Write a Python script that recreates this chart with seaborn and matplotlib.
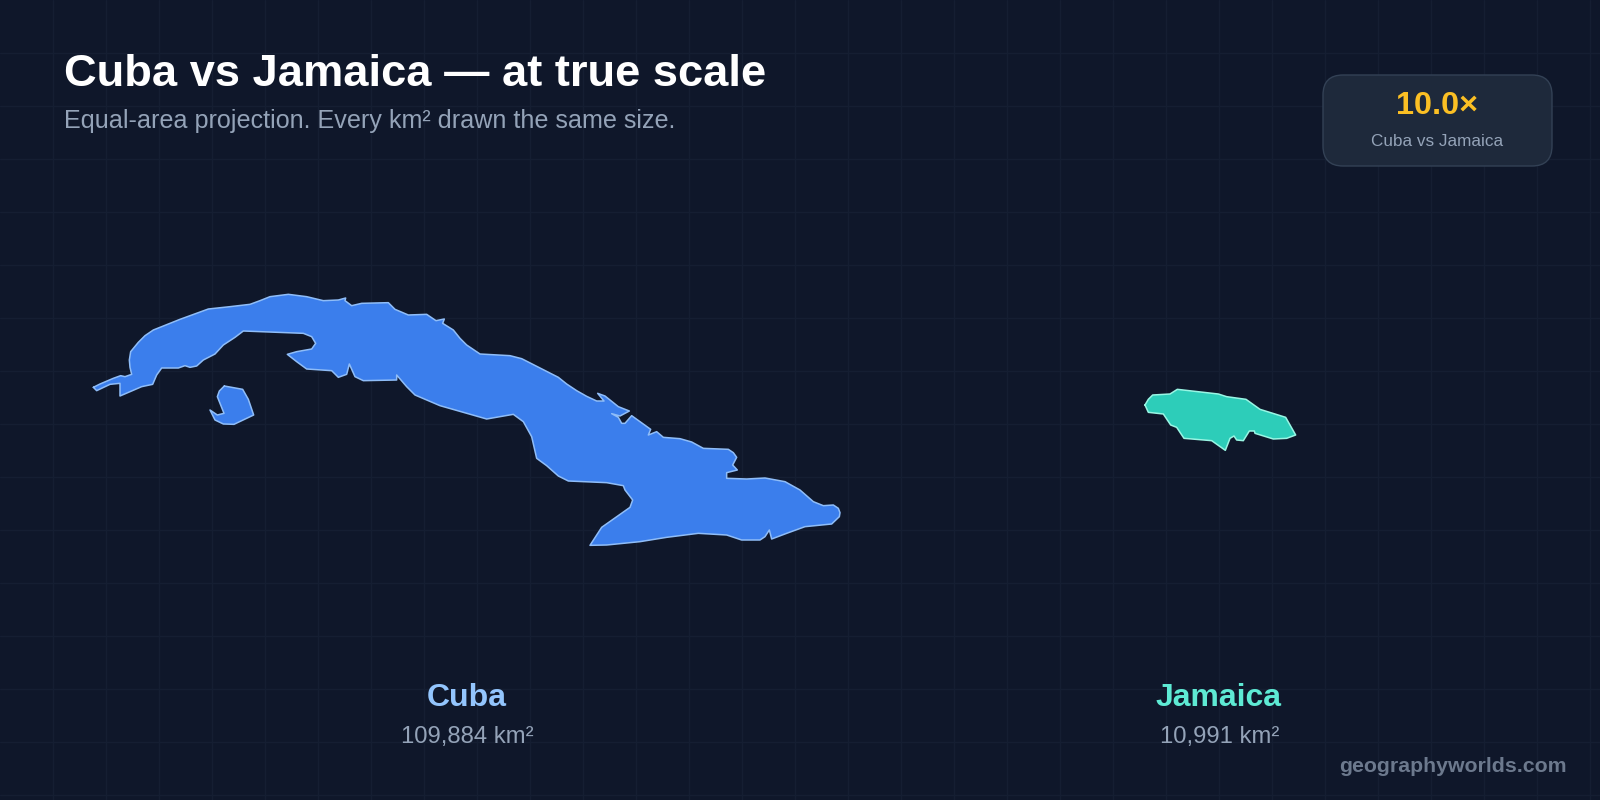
import matplotlib
matplotlib.use('Agg')
import matplotlib.pyplot as plt
from matplotlib.patches import FancyBboxPatch
import numpy as np
import seaborn as sns

# outlines, in 3x crop units (crop origin given next to each)
cuba_west_north = [(40,322),(60,312),(100,295),(122,287),(135,290),(155,283),(150,262),(148,240),(152,215),(175,187),
                   (195,167),(220,150),(300,118),(385,87),(450,80),(510,73),(540,62),(570,50),(625,43),(680,50),(730,62),
                   (775,60),(797,54),(795,62),(815,77),(845,70),(925,68),(945,88),(985,105),(1040,103),(1068,122),
                   (1093,117),(1088,130),(1120,150),(1140,175),(1160,195),(1200,222)]  # crop at 80,280
cuba_east = [(210,107),(245,116),(300,144),(355,172),(380,192),(410,212),(440,229),(470,243),(492,243),(473,220),
             (495,228),(535,260),(568,273),(540,288),(515,281),(535,292),(545,310),(555,310),(575,287),(632,328),
             (625,345),(650,335),(670,352),(720,356),(755,366),(790,385),(865,388),(880,398),(890,412),(878,435),
             (892,450),(860,458),(860,475),(920,477),(975,474),(1035,485),(1080,510),(1120,545),(1150,557),
             (1180,555),(1195,565),(1200,578),(1198,590),(1175,612),(1095,620),(1040,640),(995,657),(988,630),
             (975,650),(960,660),(905,660),(860,645),(775,640),(680,652),(600,665),(500,675),(450,676),(485,622),
             (570,562),(578,540),(555,510),(550,497),(500,488),(385,483),(355,468),(320,437),(290,415),(282,380),
             (275,350),(250,305),(220,283),(140,297),(70,277),(0,257)]  # crop at 440,320
cuba_west_south = [(1005,345),(980,320),(950,285),(950,300),(850,302),(825,290),(808,252),(800,283),
                   (775,292),(755,272),(680,267),(650,245),(622,223),(650,215),(695,207),(707,190),(695,170),
                   (670,160),(490,153),(465,172),(430,195),(405,222),(370,240),(350,258),(330,262),(315,257),
                   (295,264),(245,264),(230,285),(218,313),(185,320),(120,348),(120,310),(90,313),(50,332)]  # crop at 80,280
isle_of_youth = [(433,318),(488,328),(505,358),(521,405),(462,433),(430,432),(405,420),(390,390),(412,405),
                 (432,400),(412,350),(418,333)]  # crop at 80,280
jamaica = [(75,105),(85,88),(98,75),(150,72),(172,58),(295,72),(320,80),(378,88),(420,118),(497,142),(527,195),(500,205),
           (460,207),(405,190),(403,183),(388,183),(370,212),(350,210),(342,198),(330,205),(316,241),(275,212),
           (192,205),(170,172),(152,165),(130,132),(85,127)]  # crop at 1120,370

names = ['Cuba', 'Jamaica']
areas = ['109,884 km²', '10,991 km²']
ratio = '10.0×'


def from_crop(points, x0, y0):
    pts = np.array(points, dtype=float)
    return pts[:, 0] / 3 + x0, pts[:, 1] / 3 + y0


sns.set_theme(style='dark')
plt.rcParams['font.family'] = ['Liberation Sans', 'DejaVu Sans']

fig = plt.figure(figsize=(16, 8), dpi=100, facecolor='#0f172a')
ax = fig.add_axes([0, 0, 1, 1], facecolor='#0f172a')
for s in ax.spines.values():
    s.set_visible(False)
ax.set_xticks(np.arange(53, 1600, 53))
ax.set_yticks(np.arange(53, 800, 53))
ax.tick_params(length=0, labelbottom=False, labelleft=False)
ax.grid(True, color='#151e32', lw=1)
ax.set_axisbelow(True)

xa, ya = from_crop(cuba_west_north, 80, 280)
xb, yb = from_crop(cuba_east, 440, 320)
xc, yc = from_crop(cuba_west_south, 80, 280)
cuba_x = np.concatenate([xa, xb, xc])
cuba_y = np.concatenate([ya, yb, yc])
isle_x, isle_y = from_crop(isle_of_youth, 80, 280)
jam_x, jam_y = from_crop(jamaica, 1120, 370)

shapes = [(cuba_x, cuba_y, '#3b7eec', '#8fbdf8'),
          (isle_x, isle_y, '#3b7eec', '#8fbdf8'),
          (jam_x, jam_y, '#2dcdb9', '#99f6e4')]
for x, y, fill, edge in shapes:
    ax.fill(x, y, color=fill, lw=0, zorder=3)
    sns.lineplot(x=np.append(x, x[0]), y=np.append(y, y[0]), sort=False, estimator=None,
                 color=edge, lw=1.1, ax=ax, zorder=4, solid_joinstyle='round')
ax.set_xlim(0, 1600)
ax.set_ylim(800, 0)
ax.set_xlabel('')
ax.set_ylabel('')

ax.text(64, 75, 'Cuba vs Jamaica — at true scale', color='white', fontsize=32.6, fontweight='bold',
        ha='left', va='center')
ax.text(64, 121, 'Equal-area projection. Every km² drawn the same size.', color='#94a3b8', fontsize=18.12,
        ha='left', va='center')

badge = FancyBboxPatch((1323 + 20, 75 + 20), 229 - 40, 91 - 40, boxstyle='round,pad=20,rounding_size=20',
                       fc='#1e293b', ec='#334155', lw=1, zorder=3)
ax.add_patch(badge)
ax.text(1437, 106, ratio, color='#fbbf24', fontsize=23.3, fontweight='bold', ha='center', va='center', zorder=5)
ax.text(1437, 141, 'Cuba vs Jamaica', color='#94a3b8', fontsize=12.3, ha='center', va='center', zorder=5)

ax.text(467, 698, names[0], color='#93c5fd', fontsize=23, fontweight='bold', ha='center', va='center')
ax.text(467, 737, areas[0], color='#94a3b8', fontsize=17.2, ha='center', va='center')
ax.text(1219, 698, names[1], color='#5eead4', fontsize=23, fontweight='bold', ha='center', va='center')
ax.text(1220, 737, areas[1], color='#94a3b8', fontsize=17.2, ha='center', va='center')

ax.text(1567, 767, 'geographyworlds.com', color='#94a3b8', alpha=0.7, fontsize=15.3, fontweight='bold',
        ha='right', va='center')

plt.savefig('out.png', dpi=100, facecolor=fig.get_facecolor())
